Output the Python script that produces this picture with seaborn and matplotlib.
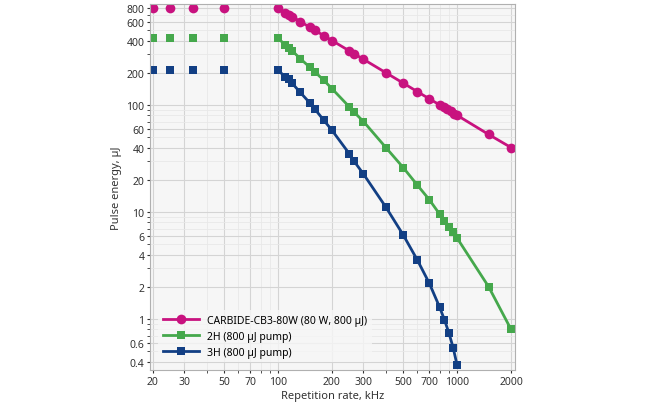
import matplotlib
matplotlib.use("Agg")
import matplotlib.pyplot as plt
import seaborn as sns
import pandas as pd
from matplotlib.ticker import FixedLocator, NullFormatter, LogLocator

plt.rcParams["font.family"] = "Noto Sans"

low_f = [20, 25, 33.3, 50]
low_c = [800, 800, 800, 800]
low_2h = [420, 420, 420, 420]
low_3h = [210, 210, 210, 210]

c_f = [100, 110, 115, 120, 133, 150, 160, 180, 200, 250, 265, 300, 400, 500, 600, 700,
       800, 840, 880, 920, 960, 1000, 1500, 2000]
c_e = [800, 727, 696, 667, 602, 533, 500, 444, 400, 320, 302, 267, 200, 160, 133, 114,
       100, 95, 91, 87, 83, 80, 53, 40]

h2_f = [100, 110, 115, 120, 133, 150, 160, 180, 200, 250, 265, 300, 400, 500, 600, 700,
        800, 850, 900, 950, 1000, 1500, 2000]
h2_e = [420, 362, 342, 320, 271, 226, 205, 170, 142, 96, 86, 70, 40, 26, 17.8, 13.0,
        9.5, 8.3, 7.3, 6.5, 5.7, 2.0, 0.80]

h3_f = [100, 110, 115, 120, 133, 150, 160, 180, 200, 250, 265, 300, 400, 500, 600, 700,
        800, 850, 900, 950, 1000]
h3_e = [210, 183, 173, 159, 131, 105, 92, 72, 58, 35, 30, 22.6, 11.1, 6.1, 3.55, 2.15,
        1.28, 0.98, 0.74, 0.54, 0.37]

labels = ["CARBIDE-CB3-80W (80 W, 800 µJ)", "2H (800 µJ pump)", "3H (800 µJ pump)"]
colors = ["#c8127f", "#45a84c", "#123f84"]
markers = ["o", "s", "s"]
sizes = [7, 6, 6]

x_ticks = [20, 30, 50, 70, 100, 200, 300, 500, 700, 1000, 2000]
y_ticks = [0.4, 0.6, 1, 2, 4, 6, 10, 20, 40, 60, 100, 200, 400, 600, 800]

fig = plt.figure(figsize=(6.5, 4.06), dpi=100)
ax = fig.add_axes([0.231, 0.085, 0.561, 0.903])
ax.set_facecolor("#f6f6f6")
ax.set_xscale("log")
ax.set_yscale("log")

series = [(c_f, c_e, low_f, low_c), (h2_f, h2_e, low_f, low_2h), (h3_f, h3_e, low_f, low_3h)]
for (f, e, lf, le), lab, col, mk, ms in zip(series, labels, colors, markers, sizes):
    sns.lineplot(x=f, y=e, ax=ax, color=col, marker=mk, markersize=ms, markeredgewidth=0,
                 linewidth=2, label=lab, sort=False)
    sns.scatterplot(x=lf, y=le, ax=ax, color=col, marker=mk, s=ms**2, linewidth=0)

ax.set_xlim(19.3, 2100)
ax.set_ylim(0.33, 880)
ax.xaxis.set_major_locator(FixedLocator(x_ticks))
ax.xaxis.set_minor_locator(LogLocator(base=10, subs=range(2, 10), numticks=20))
ax.xaxis.set_minor_formatter(NullFormatter())
ax.set_xticklabels([str(t) for t in x_ticks])
ax.yaxis.set_major_locator(FixedLocator(y_ticks))
ax.yaxis.set_minor_locator(LogLocator(base=10, subs=range(2, 10), numticks=20))
ax.yaxis.set_minor_formatter(NullFormatter())
ax.set_yticklabels([("%g" % t) for t in y_ticks])
ax.grid(True, which="major", color="#d4d4d4", linewidth=0.8)
ax.grid(True, which="minor", color="#e8e8e8", linewidth=0.6)
ax.set_axisbelow(True)
for s in ax.spines.values():
    s.set_color("#b0b0b0")
ax.tick_params(labelsize=7.5, colors="#333333", length=2, pad=2, which="both")
ax.set_xlabel("Repetition rate, kHz", fontsize=8, color="#333333", labelpad=2)
ax.set_ylabel("Pulse energy, µJ", fontsize=8, color="#333333", labelpad=3)
ax.legend(loc="lower left", fontsize=7.5, frameon=True, facecolor="#f6f6f6",
          edgecolor="none", handlelength=3.5, borderaxespad=0.8)
fig.savefig("out.png", dpi=100)
